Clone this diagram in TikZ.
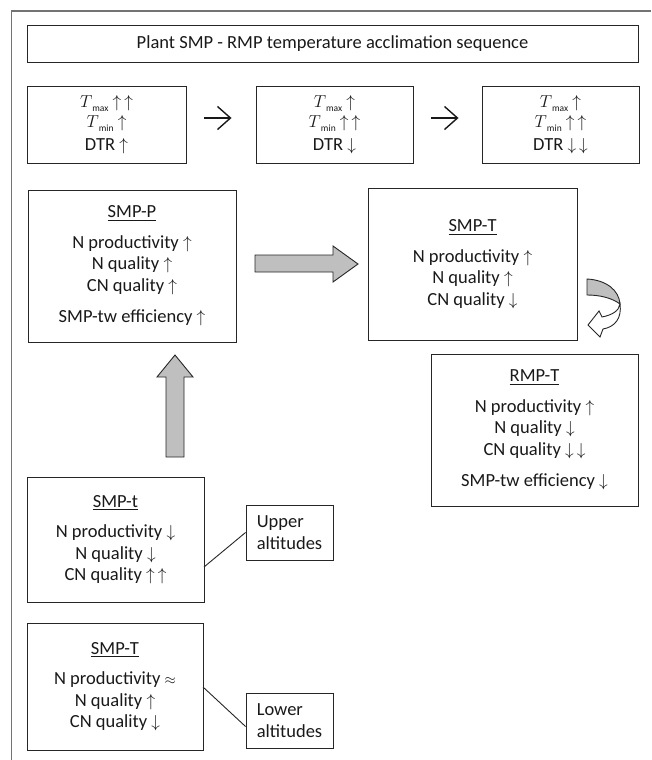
\documentclass[tikz,border=0pt]{standalone}
\usepackage{amsmath}
\usepackage{fontspec}
\setmainfont{Carlito}
\usetikzlibrary{arrows.meta}
\begin{document}
\begin{tikzpicture}[x=1pt,y=-1pt,
  box/.style={draw=black!85, line width=0.9pt, inner sep=0pt, align=center, text=black!90, font=\fontsize{18.5}{21.5}\selectfont},
  topbox/.style={box, font=\fontsize{18.5}{22}\selectfont},
  thinarr/.style={line width=1.4pt, black!90, -{Straight Barb[length=13pt,width=23pt,line width=1.4pt]}},
  blockarr/.style={draw=black!85, line width=0.9pt, fill=black!25},
  frame/.style={draw=black!55, line width=1.3pt}]
\useasboundingbox (0,0) rectangle (651,760);
\newcommand{\up}{$\uparrow$}
\newcommand{\dn}{$\downarrow$}
\newcommand{\Tm}[1]{$T$\raisebox{-4.5pt}{\fontsize{9.5}{9.5}\selectfont #1}}
% outer frame (top and left)
\draw[frame] (11.5,760) -- (11.5,11) -- (651,11);
% title
\node[box, minimum width=611pt, minimum height=37pt] (title) at (332.5,43.5) {Plant SMP - RMP temperature acclimation sequence};
% top row
\node[topbox, minimum width=159pt, minimum height=77pt] (top1) at (106.5,124.5) {\Tm{max}\ \up\,\up\\[-2pt]\Tm{min}\ \up\\[1pt]DTR \up};
\node[topbox, minimum width=157pt, minimum height=77pt] (top2) at (334.5,124.5) {\Tm{max}\ \up\\[-2pt]\Tm{min}\ \up\,\up\\[1pt]DTR \dn};
\node[topbox, minimum width=157pt, minimum height=77pt] (top3) at (560.5,124.5) {\Tm{max}\ \up\\[-2pt]\Tm{min}\ \up\,\up\\[1pt]DTR \dn\,\dn};
\draw[thinarr] ([xshift=18pt,yshift=6.5pt]top1.east) -- ([xshift=-24pt,yshift=6.5pt]top2.west);
\draw[thinarr] ([xshift=18pt,yshift=6.5pt]top2.east) -- ([xshift=-23pt,yshift=6.5pt]top3.west);
% main boxes
\node[box, minimum width=208pt, minimum height=152pt] (smpp) at (132,266) {\underline{SMP-P}\\[9pt]N productivity \up\\N quality \up\\CN quality \up\\[10pt]SMP-tw efficiency \up};
\node[box, minimum width=209pt, minimum height=152pt] (smpT) at (472.5,264) {\underline{SMP-T}\\[9pt]N productivity \up\\N quality \up\\CN quality \dn};
\node[box, minimum width=207pt, minimum height=152pt] (rmpt) at (534.5,430) {\underline{RMP-T}\\[9pt]N productivity \up\\N quality \dn\\CN quality \dn\,\dn\\[10pt]SMP-tw efficiency \dn};
\node[box, minimum width=177pt, minimum height=125pt] (smpt) at (115.5,539.5) {\underline{SMP-t}\\[9pt]N productivity \dn\\N quality \dn\\CN quality \up\,\up};
\node[box, minimum width=87pt, minimum height=55pt, align=left] (upper) at (289.5,532.5) {Upper\\altitudes};
\node[box, minimum width=176pt, minimum height=127pt] (smpTl) at (115,686.5) {\underline{SMP-T}\\[9pt]N productivity {\fontsize{14}{14}\selectfont$\approx$}\\N quality \up\\CN quality \dn};
\node[box, minimum width=87pt, minimum height=55pt, align=left] (lower) at (289.5,720.5) {Lower\\altitudes};
% connector lines to altitude boxes
\coordinate (c1) at (204,567);
\coordinate (c2) at (203,687);
\draw[line width=0.9pt, black!85] (c1) -- (upper.west);
\draw[line width=0.9pt, black!85] (c2) -- ([yshift=-6pt]lower.west);
% big block arrows
\draw[blockarr] (255,255) -- (333,255) -- (333,246) -- (358,264) -- (333,282) -- (333,272) -- (255,272) -- cycle;
\draw[blockarr] (166,457) -- (166,377) -- (157,377) -- (175,355) -- (193,377) -- (184,377) -- (184,457) -- cycle;
% curved arrow
\draw[line width=0.9pt, draw=black!85, fill=black!25] (587,279) .. controls (606,280) and (619,290) .. (620,304) .. controls (612,298) and (600,295) .. (587,295) -- cycle;
\draw[line width=0.9pt, draw=black!85, fill=white] (620,304) .. controls (619,311) and (612,315) .. (602,317) -- (599,311) -- (588,325) -- (600,337) -- (603,329) .. controls (615,327) and (622,318) .. (620,304) -- cycle;
\end{tikzpicture}
\end{document}
